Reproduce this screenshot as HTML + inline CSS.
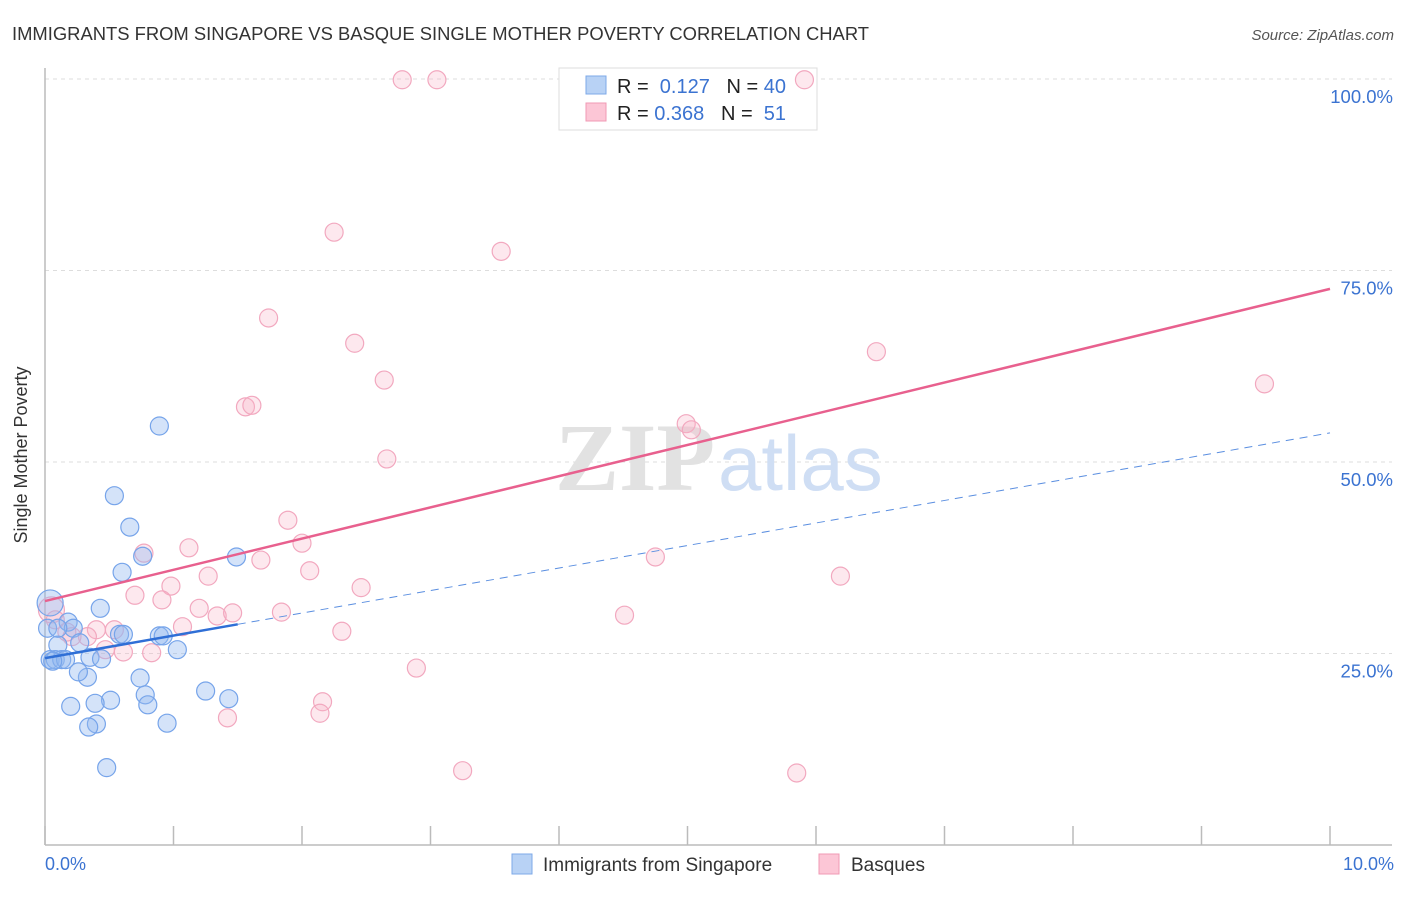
<!DOCTYPE html>
<html><head><meta charset="utf-8"><style>
body{margin:0;background:#fff;font-family:"Liberation Sans",sans-serif}
</style></head><body>
<svg width="1406" height="892" xmlns="http://www.w3.org/2000/svg">
<text x="12" y="40" font-size="18.4" fill="#333">IMMIGRANTS FROM SINGAPORE VS BASQUE SINGLE MOTHER POVERTY CORRELATION CHART</text>
<text x="1394" y="40" font-size="15" fill="#555" font-style="italic" text-anchor="end">Source: ZipAtlas.com</text>
<g id="grid"></g>
<line x1="45" y1="68" x2="45" y2="845" stroke="#bbb" stroke-width="1.5"/>
<line x1="45" y1="845" x2="1392" y2="845" stroke="#bbb" stroke-width="1.5"/>
<text x="555" y="490" font-size="96" fill="#e2e2e2" font-family="Liberation Serif,serif" font-weight="bold">ZIP</text>
<text x="718" y="490" font-size="78" fill="#cfdef4">atlas</text>
<g id="ticks"></g>
<g>
<rect x="559" y="68" width="258" height="62" fill="#fff" stroke="#ddd"/>
<rect x="586" y="76" width="20" height="18" fill="#b8d2f5" stroke="#7ea9e8"/>
<rect x="586" y="103" width="20" height="18" fill="#fcc6d6" stroke="#f09ab4"/>
<text x="617" y="93" font-size="20" fill="#222">R = <tspan fill="#3b73d1">&#160;0.127</tspan>&#160;&#160;&#160;N = <tspan fill="#3b73d1">40</tspan></text>
<text x="617" y="120" font-size="20" fill="#222">R = <tspan fill="#3b73d1">0.368</tspan>&#160;&#160;&#160;N = <tspan fill="#3b73d1">&#160;51</tspan></text>
</g>
<g id="pts"></g>
<g id="lines"></g>
<text x="27" y="455" font-size="18" fill="#333" text-anchor="middle" transform="rotate(-90 27 455)">Single Mother Poverty</text>
<text x="45" y="870" font-size="18" fill="#3b73d1">0.0%</text>
<text x="1394" y="870" font-size="18" fill="#3b73d1" text-anchor="end">10.0%</text>
<g>
<rect x="512" y="854" width="20" height="20" fill="#b8d2f5" stroke="#7ea9e8"/>
<text x="543" y="871" font-size="19" fill="#333">Immigrants from Singapore</text>
<rect x="819" y="854" width="20" height="20" fill="#fcc6d6" stroke="#f09ab4"/>
<text x="851" y="871" font-size="19" fill="#333">Basques</text>
</g>
</svg>
<script>
const yTicks=[25,50,75,100];
const yTickLabels=["25.0%","50.0%","75.0%","100.0%"];
const xTicks=[0,1,2,3,4,5,6,7,8,9,10];
const blueX=[0.89,0.54,0.66,0.76,0.60,1.49,0.43,0.04,0.02,0.18,0.22,0.58,0.61,0.89,0.92,1.03,0.27,0.10,0.04,0.08,0.13,0.16,0.35,0.44,0.33,0.26,0.74,0.78,0.80,1.25,1.43,0.51,0.39,0.20,0.40,0.34,0.95,0.48,0.10,0.06];
const blueY=[54.7,45.6,41.5,37.7,35.6,37.6,30.9,31.6,28.3,29.1,28.3,27.5,27.5,27.3,27.3,25.5,26.4,26.1,24.2,24.2,24.2,24.2,24.5,24.3,21.9,22.6,21.8,19.6,18.3,20.1,19.1,18.9,18.5,18.1,15.8,15.4,15.9,10.1,28.3,24.0];
const pinkX=[2.78,3.05,5.91,2.25,3.55,1.74,2.41,6.47,2.64,9.49,1.56,1.61,4.99,5.03,2.66,1.89,2.0,0.77,1.12,1.68,4.75,1.27,0.98,2.06,6.19,0.70,0.91,2.46,1.20,1.34,1.46,1.84,4.51,1.07,2.31,0.40,0.54,0.33,0.21,0.17,0.47,0.61,0.83,2.89,2.16,2.14,1.42,3.25,5.85,0.05,0.08];
const pinkY=[99.9,99.9,99.9,80.0,77.5,68.8,65.5,64.4,60.7,60.2,57.2,57.4,55.0,54.2,50.4,42.4,39.4,38.1,38.8,37.2,37.6,35.1,33.8,35.8,35.1,32.6,32.0,33.6,30.9,29.9,30.3,30.4,30.0,28.5,27.9,28.1,28.1,27.2,27.2,27.8,25.5,25.2,25.1,23.1,18.7,17.2,16.6,9.7,9.4,30.7,29.4];
const pinkTrend=[31.85,72.6];
const blueTrend=[24.4,53.8];
const blueSolidEnd=1.5;
const NS="http://www.w3.org/2000/svg";
const sx=v=>45+v*128.5, sy=v=>845-v*7.66;
function mk(t,a,p){const e=document.createElementNS(NS,t);for(const k in a)e.setAttribute(k,a[k]);document.getElementById(p).appendChild(e);return e;}
yTicks.forEach((t,i)=>{
 const l=mk('line',{x1:45,x2:1392,y1:sy(t),y2:sy(t),stroke:'#ddd','stroke-dasharray':'4,4'},'grid');
 
 
 const tx=mk('text',{x:1393,y:sy(t)+24,'font-size':18.5,fill:'#3b73d1','text-anchor':'end','font-family':'Liberation Sans'},'ticks');
 tx.textContent=yTickLabels[i];
 
 
});
xTicks.forEach(t=>{
 const l=mk('line',{x1:sx(t),x2:sx(t),y1:826,y2:845,stroke:'#bbb','stroke-width':1.5},'ticks');
 
 
});
function pts(X,Y,fill,stroke,name){
 X.forEach((x,i)=>{
  const big=(x<0.06&&Math.abs(Y[i]-31)<1.5);
  const c=mk('circle',{cx:sx(x),cy:sy(Y[i]),r:big?13:9,fill:fill,stroke:stroke,'stroke-width':1.2},'pts');
  
  
 });
}
pts(pinkX,pinkY,'rgba(248,180,200,0.3)','#f2a8bf','basques-point');
pts(blueX,blueY,'rgba(147,186,240,0.4)','#76a4ea','singapore-point');
let l=mk('line',{x1:sx(0),y1:sy(pinkTrend[0]),x2:sx(10),y2:sy(pinkTrend[1]),stroke:'#e8608e','stroke-width':2.5},'lines');


const by=x=>blueTrend[0]+(blueTrend[1]-blueTrend[0])*x/10;
l=mk('line',{x1:sx(0),y1:sy(by(0)),x2:sx(blueSolidEnd),y2:sy(by(blueSolidEnd)),stroke:'#2f6fd6','stroke-width':2.5},'lines');


l=mk('line',{x1:sx(blueSolidEnd),y1:sy(by(blueSolidEnd)),x2:sx(10),y2:sy(by(10)),stroke:'#5a8ee0','stroke-width':1,'stroke-dasharray':'8,6'},'lines');


</script>
</body></html>
